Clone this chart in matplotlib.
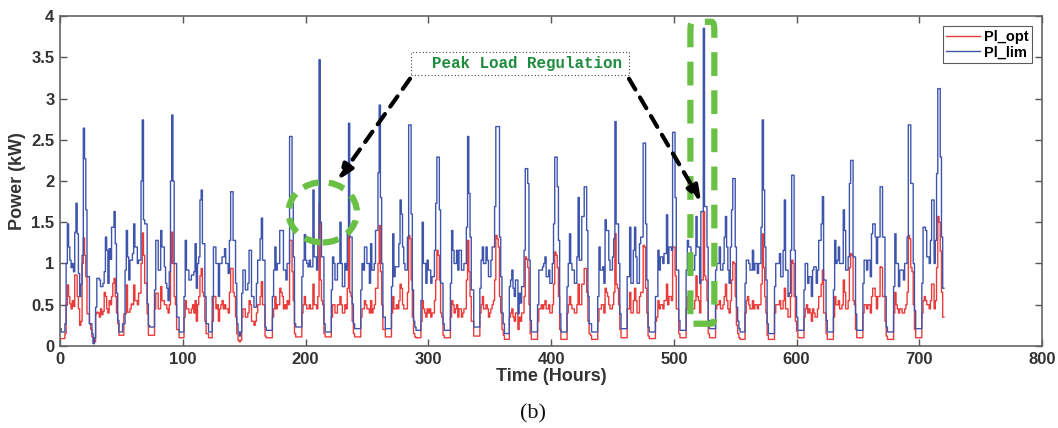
import numpy as np
import matplotlib.pyplot as plt
from matplotlib.patches import Ellipse, FancyBboxPatch, Rectangle

# hourly load over 30 days (kW), one row per day
pl_lim = [
    0.21, 0.17, 0.17, 0.17, 0.27, 1.00, 1.48, 1.20, 1.04, 0.95, 1.00, 0.90, 1.38, 1.73, 1.36, 0.88, 0.60, 0.75, 1.10, 2.64, 2.27, 1.65, 0.84, 0.84,
    0.27, 0.27, 0.15, 0.03, 0.10, 0.47, 0.82, 0.82, 0.80, 0.72, 0.72, 0.76, 0.90, 1.32, 1.16, 0.76, 1.18, 1.05, 1.44, 1.44, 1.63, 1.24, 0.64, 0.31,
    0.17, 0.17, 0.17, 0.27, 0.27, 0.92, 1.40, 1.08, 0.80, 1.04, 1.04, 1.12, 1.48, 1.20, 1.20, 1.00, 1.04, 1.04, 2.00, 2.74, 1.53, 1.48, 1.48, 0.51,
    0.25, 0.23, 0.23, 0.23, 0.23, 0.68, 1.28, 1.28, 0.92, 0.92, 1.40, 1.20, 1.20, 0.96, 0.76, 0.70, 0.55, 0.90, 2.00, 2.80, 2.00, 1.00, 1.00, 0.35,
    0.35, 0.17, 0.17, 0.17, 0.17, 0.60, 1.28, 0.92, 0.92, 0.80, 0.80, 0.86, 0.86, 0.90, 1.24, 0.70, 1.00, 1.08, 1.77, 1.89, 1.24, 1.24, 0.60, 0.27,
    0.27, 0.17, 0.17, 0.17, 0.60, 1.20, 1.20, 1.00, 1.00, 0.60, 1.00, 1.00, 1.08, 1.08, 1.18, 1.00, 1.00, 0.88, 1.28, 1.87, 1.87, 1.28, 1.28, 0.76,
    0.27, 0.17, 0.12, 0.17, 0.64, 0.92, 0.92, 0.68, 0.68, 0.76, 1.16, 1.16, 0.60, 0.60, 0.47, 0.47, 0.76, 1.04, 1.04, 1.30, 1.55, 1.04, 1.04, 0.23,
    0.19, 0.19, 0.19, 0.19, 0.19, 0.60, 0.92, 1.20, 0.92, 1.00, 1.00, 1.40, 1.40, 1.40, 0.92, 0.92, 0.80, 1.00, 1.00, 2.54, 2.54, 1.80, 1.08, 0.27,
    0.23, 0.23, 0.23, 0.23, 0.23, 0.84, 1.04, 1.35, 1.04, 1.00, 0.96, 1.04, 0.96, 0.96, 1.89, 1.08, 1.08, 0.92, 1.24, 3.47, 1.50, 1.08, 1.08, 0.27,
    0.17, 0.17, 0.17, 0.17, 0.17, 0.68, 1.08, 1.00, 0.80, 0.80, 1.00, 1.00, 1.50, 1.00, 0.72, 0.72, 1.00, 0.92, 1.40, 2.70, 1.32, 1.32, 0.51, 0.27,
    0.21, 0.21, 0.21, 0.21, 0.21, 0.68, 1.00, 0.92, 1.20, 1.20, 1.00, 1.00, 0.76, 1.24, 0.92, 0.92, 1.00, 1.40, 1.40, 2.10, 2.92, 1.80, 1.00, 0.35,
    0.35, 0.21, 0.21, 0.21, 0.21, 0.21, 0.72, 1.36, 0.84, 0.96, 0.96, 0.96, 1.24, 1.77, 1.60, 1.20, 1.00, 0.92, 0.92, 1.32, 2.68, 2.68, 1.60, 0.68,
    0.30, 0.23, 0.19, 0.19, 0.19, 0.19, 0.55, 1.50, 1.00, 1.00, 0.76, 1.04, 0.92, 0.92, 0.76, 0.84, 0.84, 1.16, 1.73, 2.29, 2.29, 1.65, 0.76, 0.76,
    0.27, 0.19, 0.19, 0.19, 0.19, 0.19, 0.76, 1.40, 1.16, 1.00, 1.00, 1.16, 0.92, 1.16, 1.16, 0.92, 0.92, 1.00, 1.00, 1.44, 2.54, 1.85, 1.32, 0.68,
    0.68, 0.23, 0.23, 0.23, 0.23, 0.23, 0.70, 1.04, 1.20, 1.00, 1.00, 1.20, 1.04, 0.84, 0.84, 1.04, 1.20, 1.20, 1.69, 2.66, 2.66, 2.66, 1.32, 0.84,
    0.40, 0.27, 0.15, 0.15, 0.15, 0.15, 0.72, 0.80, 0.92, 0.70, 0.60, 0.80, 0.80, 0.39, 0.64, 0.52, 0.72, 0.72, 1.16, 2.15, 2.15, 1.97, 1.04, 0.31,
    0.17, 0.17, 0.17, 0.17, 0.17, 0.50, 0.92, 0.92, 0.92, 0.96, 1.00, 1.08, 0.84, 0.84, 0.92, 0.76, 0.76, 1.00, 1.48, 2.29, 2.29, 1.93, 1.28, 0.39,
    0.17, 0.17, 0.17, 0.17, 0.17, 0.72, 1.00, 1.36, 1.00, 0.92, 0.92, 0.76, 0.76, 1.08, 1.80, 1.04, 1.04, 1.57, 1.57, 1.93, 1.93, 1.40, 0.60, 0.27,
    0.27, 0.17, 0.17, 0.17, 0.17, 0.17, 0.60, 1.20, 0.92, 0.92, 0.96, 0.76, 1.53, 1.40, 1.40, 1.04, 0.92, 0.92, 1.08, 1.30, 2.72, 1.48, 1.48, 1.00,
    0.39, 0.21, 0.21, 0.21, 0.21, 0.21, 0.84, 0.84, 1.44, 0.76, 0.76, 1.16, 1.44, 1.08, 0.76, 0.76, 1.24, 1.32, 1.32, 2.46, 2.46, 1.48, 0.80, 0.23,
    0.17, 0.17, 0.17, 0.17, 0.17, 0.60, 0.60, 1.16, 0.92, 1.08, 1.08, 1.00, 1.12, 1.12, 1.59, 1.00, 1.20, 1.20, 1.16, 2.59, 2.59, 1.80, 0.92, 0.92,
    0.31, 0.19, 0.19, 0.19, 0.19, 0.19, 0.92, 1.28, 1.20, 1.20, 1.00, 0.92, 0.92, 1.10, 1.57, 1.20, 1.20, 0.76, 1.63, 1.63, 3.85, 1.69, 1.69, 1.20,
    0.31, 0.21, 0.21, 0.21, 0.21, 0.21, 0.92, 1.00, 1.00, 1.20, 0.92, 0.92, 1.00, 1.32, 1.57, 1.20, 0.92, 0.76, 1.20, 1.65, 2.03, 2.03, 1.20, 0.47,
    0.30, 0.21, 0.17, 0.17, 0.17, 0.17, 0.76, 1.04, 1.04, 1.00, 0.92, 0.92, 1.16, 0.92, 1.00, 1.00, 0.88, 1.00, 1.00, 1.44, 2.74, 1.89, 1.20, 0.80,
    0.27, 0.15, 0.15, 0.15, 0.15, 0.15, 0.72, 1.00, 1.00, 1.00, 1.12, 0.84, 0.84, 1.16, 1.77, 0.92, 0.92, 0.60, 0.64, 1.16, 2.07, 2.07, 1.16, 0.60,
    0.35, 0.19, 0.19, 0.19, 0.19, 0.19, 0.68, 1.00, 1.00, 0.76, 0.84, 0.84, 0.60, 0.92, 0.96, 0.96, 0.76, 0.92, 1.28, 1.28, 1.48, 1.81, 0.80, 0.80,
    0.31, 0.17, 0.17, 0.17, 0.17, 0.17, 0.68, 1.28, 1.00, 1.04, 1.20, 1.00, 1.00, 1.00, 1.65, 1.40, 0.92, 0.92, 1.08, 1.97, 2.25, 2.25, 1.08, 1.08,
    0.39, 0.19, 0.19, 0.19, 0.19, 0.19, 0.76, 1.04, 1.04, 0.92, 1.04, 1.04, 0.84, 1.36, 1.48, 1.48, 1.32, 1.00, 1.32, 1.32, 1.93, 1.93, 1.32, 1.32,
    0.60, 0.23, 0.17, 0.17, 0.17, 0.17, 0.17, 0.72, 1.36, 1.00, 1.00, 0.72, 0.92, 0.92, 0.92, 0.80, 1.00, 1.00, 1.32, 2.68, 2.68, 1.97, 1.97, 1.00,
    0.43, 0.21, 0.21, 0.21, 0.21, 0.21, 0.76, 1.44, 1.44, 1.40, 1.08, 1.08, 1.00, 1.28, 1.77, 1.77, 1.00, 1.28, 2.09, 3.12, 3.12, 2.29, 1.32, 0.70,
]

pl_opt = [
    0.09, 0.09, 0.09, 0.09, 0.15, 0.50, 0.74, 0.60, 0.51, 0.45, 0.55, 0.48, 0.86, 0.86, 0.60, 0.45, 0.25, 0.30, 1.00, 1.31, 1.10, 0.84, 0.39, 0.39,
    0.27, 0.20, 0.11, 0.03, 0.05, 0.39, 0.41, 0.40, 0.35, 0.45, 0.38, 0.42, 0.65, 0.60, 0.45, 0.40, 0.55, 0.50, 0.60, 0.76, 0.82, 0.60, 0.40, 0.27,
    0.13, 0.13, 0.13, 0.13, 0.39, 0.39, 0.74, 0.41, 0.41, 0.45, 0.51, 0.50, 0.74, 0.55, 0.55, 0.50, 0.64, 0.64, 1.00, 1.37, 1.10, 0.76, 0.76, 0.39,
    0.13, 0.13, 0.13, 0.13, 0.13, 0.45, 0.64, 0.64, 0.45, 0.45, 0.72, 0.55, 0.55, 0.50, 0.50, 0.45, 0.40, 0.50, 1.00, 1.38, 1.00, 0.60, 0.50, 0.20,
    0.20, 0.10, 0.10, 0.10, 0.10, 0.35, 0.55, 0.45, 0.45, 0.40, 0.40, 0.45, 0.50, 0.40, 0.55, 0.30, 0.50, 0.60, 0.85, 0.94, 0.65, 0.60, 0.30, 0.15,
    0.15, 0.10, 0.10, 0.10, 0.30, 0.60, 0.60, 0.45, 0.50, 0.30, 0.45, 0.50, 0.55, 0.45, 0.50, 0.45, 0.45, 0.40, 0.65, 0.94, 0.94, 0.65, 0.60, 0.35,
    0.15, 0.07, 0.05, 0.07, 0.35, 0.45, 0.45, 0.35, 0.35, 0.40, 0.55, 0.50, 0.30, 0.30, 0.25, 0.30, 0.40, 0.50, 0.50, 0.60, 0.78, 0.50, 0.50, 0.12,
    0.10, 0.10, 0.10, 0.10, 0.10, 0.35, 0.45, 0.60, 0.45, 0.50, 0.50, 0.70, 0.65, 0.60, 0.45, 0.50, 0.45, 0.55, 0.50, 1.28, 1.28, 0.90, 0.55, 0.15,
    0.11, 0.11, 0.11, 0.11, 0.11, 0.40, 0.50, 0.60, 0.50, 0.45, 0.45, 0.50, 0.45, 0.45, 0.75, 0.50, 0.50, 0.45, 0.60, 1.73, 0.80, 0.55, 0.50, 0.15,
    0.11, 0.11, 0.11, 0.11, 0.11, 0.35, 0.50, 0.50, 0.40, 0.40, 0.50, 0.50, 0.60, 0.50, 0.40, 0.40, 0.50, 0.45, 0.70, 1.36, 0.65, 0.60, 0.30, 0.15,
    0.11, 0.11, 0.11, 0.11, 0.11, 0.35, 0.45, 0.45, 0.55, 0.50, 0.45, 0.45, 0.40, 0.55, 0.40, 0.45, 0.50, 0.70, 0.70, 1.00, 1.46, 0.90, 0.50, 0.20,
    0.20, 0.11, 0.11, 0.11, 0.11, 0.11, 0.40, 0.60, 0.45, 0.45, 0.50, 0.45, 0.55, 0.75, 0.70, 0.50, 0.45, 0.45, 0.45, 0.65, 1.34, 1.30, 0.80, 0.35,
    0.15, 0.11, 0.10, 0.10, 0.10, 0.10, 0.30, 0.55, 0.45, 0.40, 0.35, 0.45, 0.40, 0.45, 0.35, 0.40, 0.40, 0.55, 0.80, 1.16, 1.10, 0.80, 0.40, 0.35,
    0.13, 0.10, 0.10, 0.10, 0.10, 0.10, 0.35, 0.55, 0.50, 0.40, 0.45, 0.50, 0.35, 0.45, 0.45, 0.35, 0.40, 0.45, 0.45, 0.80, 1.28, 0.90, 0.60, 0.30,
    0.30, 0.12, 0.12, 0.12, 0.12, 0.12, 0.40, 0.50, 0.60, 0.45, 0.45, 0.50, 0.45, 0.35, 0.40, 0.45, 0.50, 0.55, 0.80, 1.34, 1.30, 1.20, 0.60, 0.40,
    0.20, 0.13, 0.08, 0.08, 0.08, 0.08, 0.35, 0.40, 0.45, 0.35, 0.30, 0.40, 0.40, 0.20, 0.35, 0.30, 0.40, 0.40, 0.60, 1.08, 1.05, 0.95, 0.50, 0.15,
    0.08, 0.08, 0.08, 0.08, 0.08, 0.30, 0.45, 0.45, 0.50, 0.45, 0.50, 0.55, 0.45, 0.45, 0.50, 0.40, 0.40, 0.50, 0.75, 1.14, 1.10, 0.95, 0.60, 0.20,
    0.08, 0.08, 0.08, 0.08, 0.08, 0.40, 0.50, 0.60, 0.50, 0.45, 0.45, 0.40, 0.40, 0.50, 0.75, 0.50, 0.50, 0.75, 0.75, 0.94, 0.94, 0.65, 0.30, 0.15,
    0.13, 0.08, 0.08, 0.08, 0.08, 0.08, 0.30, 0.45, 0.45, 0.50, 0.50, 0.40, 0.70, 0.65, 0.60, 0.50, 0.45, 0.45, 0.50, 0.65, 1.36, 0.75, 0.70, 0.50,
    0.20, 0.10, 0.10, 0.10, 0.10, 0.10, 0.45, 0.45, 0.65, 0.40, 0.40, 0.55, 0.70, 0.55, 0.40, 0.40, 0.60, 0.65, 0.65, 1.22, 1.20, 0.70, 0.40, 0.12,
    0.09, 0.09, 0.09, 0.09, 0.09, 0.30, 0.35, 0.55, 0.45, 0.50, 0.50, 0.45, 0.55, 0.55, 0.75, 0.50, 0.60, 0.60, 0.55, 1.20, 1.20, 0.85, 0.45, 0.45,
    0.15, 0.10, 0.10, 0.10, 0.10, 0.10, 0.45, 0.60, 0.55, 0.55, 0.45, 0.45, 0.45, 0.55, 0.85, 0.60, 0.55, 0.40, 0.80, 0.80, 1.63, 0.85, 0.80, 0.55,
    0.15, 0.10, 0.10, 0.10, 0.10, 0.10, 0.45, 0.50, 0.50, 0.55, 0.45, 0.45, 0.50, 0.60, 0.75, 0.55, 0.45, 0.40, 0.55, 0.80, 1.02, 1.00, 0.60, 0.25,
    0.15, 0.10, 0.08, 0.08, 0.08, 0.08, 0.40, 0.55, 0.60, 0.50, 0.45, 0.45, 0.55, 0.45, 0.50, 0.50, 0.45, 0.50, 0.50, 0.75, 1.36, 0.95, 0.60, 0.40,
    0.13, 0.08, 0.08, 0.08, 0.08, 0.08, 0.40, 0.50, 0.50, 0.50, 0.55, 0.45, 0.45, 0.55, 0.70, 0.45, 0.45, 0.35, 0.35, 0.60, 1.04, 1.00, 0.60, 0.30,
    0.18, 0.10, 0.10, 0.10, 0.10, 0.10, 0.35, 0.45, 0.50, 0.40, 0.45, 0.40, 0.30, 0.45, 0.40, 0.35, 0.35, 0.45, 0.60, 0.60, 0.75, 0.92, 0.40, 0.40,
    0.15, 0.08, 0.08, 0.08, 0.08, 0.08, 0.35, 0.60, 0.50, 0.50, 0.55, 0.45, 0.45, 0.50, 0.80, 0.65, 0.45, 0.45, 0.55, 0.95, 1.12, 1.10, 0.55, 0.50,
    0.20, 0.10, 0.10, 0.10, 0.10, 0.10, 0.40, 0.50, 0.50, 0.45, 0.50, 0.50, 0.40, 0.60, 0.70, 0.70, 0.60, 0.45, 0.60, 0.60, 0.96, 0.95, 0.60, 0.60,
    0.30, 0.12, 0.08, 0.08, 0.08, 0.08, 0.08, 0.40, 0.65, 0.50, 0.45, 0.40, 0.45, 0.45, 0.40, 0.40, 0.45, 0.50, 0.65, 1.34, 1.30, 0.95, 0.90, 0.50,
    0.20, 0.10, 0.10, 0.10, 0.10, 0.10, 0.40, 0.55, 0.60, 0.55, 0.50, 0.50, 0.45, 0.55, 0.75, 0.75, 0.45, 0.55, 0.95, 1.57, 1.50, 1.15, 0.65, 0.35,
]

hours = np.arange(len(pl_lim) + 1)
lim = np.append(pl_lim, pl_lim[-1])
opt = np.append(pl_opt, pl_opt[-1])

plt.rcParams['font.family'] = 'Liberation Sans'
fig = plt.figure(figsize=(10.58, 4.28), dpi=100)
ax = fig.add_axes([0.0567, 0.1916, 0.9283, 0.771])

ax.step(hours, opt, where='post', color='#ea3b3b', linewidth=1.0, label='Pl_opt')
ax.step(hours, lim, where='post', color='#3e55ad', linewidth=1.0, label='Pl_lim')

ax.set_xlim(0, 800)
ax.set_ylim(0, 4)
ax.set_xticks(np.arange(0, 801, 100))
ax.set_yticks(np.arange(0, 4.01, 0.5))
ax.set_yticklabels(['0', '0.5', '1', '1.5', '2', '2.5', '3', '3.5', '4'])
ax.tick_params(direction='in', top=True, right=True, length=5, width=1.0,
               color='#555555', labelcolor='#333333', labelsize=12, pad=4)
for lbl in ax.get_xticklabels() + ax.get_yticklabels():
    lbl.set_fontweight('bold')
for sp in ax.spines.values():
    sp.set_color('#666666')
    sp.set_linewidth(1.2)

ax.set_xlabel('Time (Hours)', fontsize=13, fontweight='bold', color='#333333', labelpad=1)
ax.set_ylabel('Power (kW)', fontsize=13, fontweight='bold', color='#333333', labelpad=4)

leg = ax.legend(loc='upper right', fontsize=10.5, frameon=True, fancybox=False,
                handlelength=2.3, borderpad=0.25, labelspacing=0.1, handletextpad=0.25,
                borderaxespad=0.7)
leg.get_frame().set_edgecolor('#333333')
leg.get_frame().set_linewidth(0.8)
for t in leg.get_texts():
    t.set_fontweight('bold')

# highlighted peaks
green = '#6abf45'
ax.add_patch(Ellipse((214, 1.62), 55.7, 0.73, fill=False, edgecolor=green,
                     linewidth=4.5, linestyle=(0, (2.6, 1.6)), zorder=4))
ax.add_patch(FancyBboxPatch((513.5, 0.27), 19.5, 3.66,
                            boxstyle='round,pad=0,rounding_size=2.5',
                            fill=False, edgecolor=green, linewidth=4.5,
                            linestyle=(0, (3.8, 2.3)), zorder=4,
                            mutation_aspect=0.04))

# callout label with dotted frame
ax.add_patch(Rectangle((286, 3.29), 177.5, 0.27, facecolor='white',
                       edgecolor='#444444', linestyle=(0, (1, 2)), linewidth=0.8, zorder=6))
ax.text(380, 3.425, 'Peak Load Regulation', ha='center', va='center',
        fontsize=11.4, fontweight='bold', family='Liberation Mono', color='#1e8c3e',
        zorder=7)

arrow_kw = dict(arrowstyle='-|>,head_length=0.9,head_width=0.35', color='black',
                linewidth=3.0, linestyle=(0, (3.0, 2.2)), shrinkA=0, shrinkB=0)
ax.annotate('', xy=(226.5, 2.01), xytext=(285.1, 3.24), arrowprops=arrow_kw, zorder=5)
ax.annotate('', xy=(522.2, 1.75), xytext=(463.5, 3.24), arrowprops=arrow_kw, zorder=5)

fig.text(0.504, 0.033, '(b)', ha='center', va='center', fontsize=16,
         family='Liberation Serif', color='#111111')

fig.savefig('out.png', dpi=100)
